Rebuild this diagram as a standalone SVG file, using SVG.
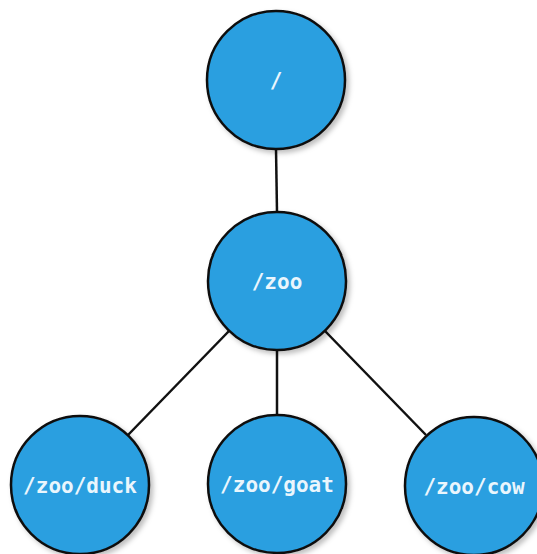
<svg xmlns="http://www.w3.org/2000/svg" width="537" height="554" viewBox="0 0 537 554">
  <defs>
    <filter id="shadow" x="-20%" y="-20%" width="150%" height="150%">
      <feDropShadow dx="3" dy="3" stdDeviation="2.5" flood-color="#000" flood-opacity="0.25"/>
    </filter>
  </defs>
  <style>
    .node circle { fill: #2a9fe0; stroke: #111; stroke-width: 2.5; filter: url(#shadow); }
    .node text { font-family: "DejaVu Sans Mono", "Liberation Mono", monospace; font-size: 21px; font-weight: bold; fill: #eaf6fd; text-anchor: middle; dominant-baseline: central; }
    .edges line { stroke: #111; stroke-width: 2.5; }
  </style>
  <rect width="537" height="554" fill="#ffffff"/>
  <g class="edges" id="connectors">
    <line x1="276" y1="149" x2="277" y2="212"/>
    <line x1="277" y1="350" x2="277" y2="415"/>
    <line x1="229" y1="331" x2="128" y2="435"/>
    <line x1="325" y1="331" x2="426" y2="435"/>
  </g>
  <g class="node" id="node-root">
    <circle cx="276" cy="80" r="69"/>
    <text x="276" y="81">/</text>
  </g>
  <g class="node" id="node-zoo">
    <circle cx="277" cy="281" r="69"/>
    <text x="277" y="282">/zoo</text>
  </g>
  <g class="node" id="node-duck">
    <circle cx="80" cy="485" r="69"/>
    <text x="80" y="486">/zoo/duck</text>
  </g>
  <g class="node" id="node-goat">
    <circle cx="277" cy="484" r="69"/>
    <text x="277" y="485">/zoo/goat</text>
  </g>
  <g class="node" id="node-cow">
    <circle cx="474" cy="486" r="69"/>
    <text x="474" y="487">/zoo/cow</text>
  </g>
</svg>
